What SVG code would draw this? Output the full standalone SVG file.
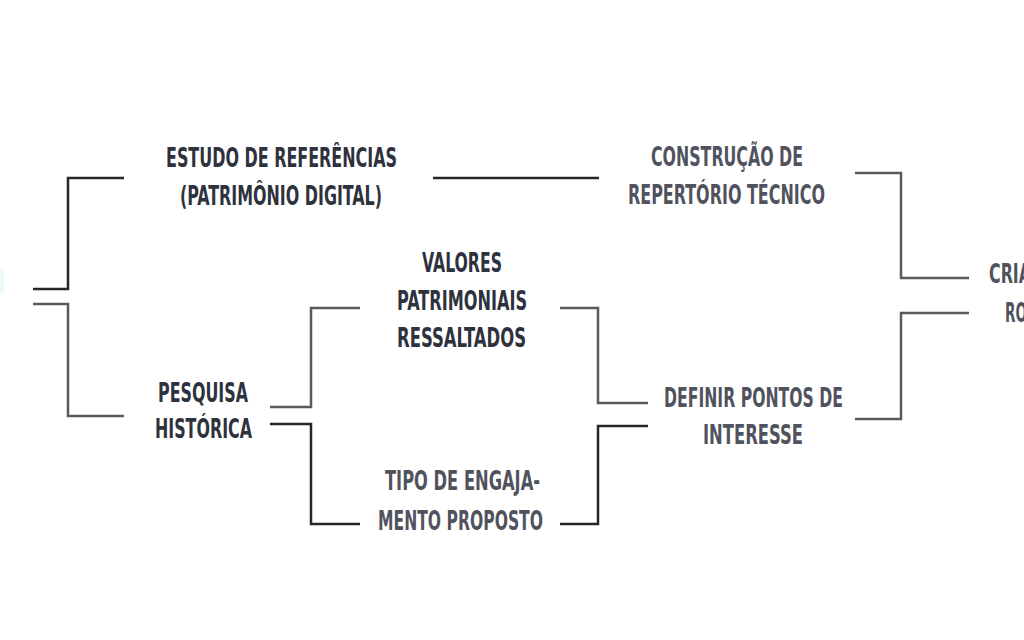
<svg xmlns="http://www.w3.org/2000/svg" width="1024" height="640" viewBox="0 0 1024 640">
<style>
  .t { font-family: "DejaVu Sans Condensed", "DejaVu Sans", sans-serif; font-weight: bold; font-size: 27px; font-stretch: condensed; }
  .dk { fill: #2e323d; }
  .md { fill: #50535d; }
  .ln { fill: none; stroke: #262626; stroke-width: 2.5; }
  .lg { fill: none; stroke: #5a5a5a; stroke-width: 2.5; }
</style>
<rect width="1024" height="640" fill="#ffffff"/>
<rect x="0" y="270" width="4" height="24" fill="#eef9fb"/>

<g id="connectors">
  <polyline class="ln" points="33,289 68,289 68,178 124,178"/>
  <polyline class="lg" points="33,304 68,304 68,416 124,416"/>
  <line class="ln" x1="433" y1="178" x2="599" y2="178"/>
  <polyline class="lg" points="270,407 311,407 311,308 360,308"/>
  <polyline class="ln" points="270,424 311,424 311,524 360,524"/>
  <polyline class="lg" points="560,308 598,308 598,403 648,403"/>
  <polyline class="ln" points="560,524 598,524 598,426 648,426"/>
  <polyline class="lg" points="855,173 901,173 901,278 969,278"/>
  <polyline class="lg" points="855,419 901,419 901,313 969,313"/>
</g>

<g id="node-estudo">
  <text class="t dk" x="166" y="167" textLength="231" lengthAdjust="spacingAndGlyphs">ESTUDO DE REFERÊNCIAS</text>
  <text class="t dk" x="180" y="205" textLength="202" lengthAdjust="spacingAndGlyphs">(PATRIMÔNIO DIGITAL)</text>
</g>

<g id="node-construcao">
  <text class="t md" x="651" y="166" textLength="152" lengthAdjust="spacingAndGlyphs">CONSTRUÇÃO DE</text>
  <text class="t md" x="628" y="204" textLength="197" lengthAdjust="spacingAndGlyphs">REPERTÓRIO TÉCNICO</text>
</g>

<g id="node-valores">
  <text class="t dk" x="422" y="272" textLength="80" lengthAdjust="spacingAndGlyphs">VALORES</text>
  <text class="t dk" x="397" y="310" textLength="130" lengthAdjust="spacingAndGlyphs">PATRIMONIAIS</text>
  <text class="t dk" x="397" y="347" textLength="129" lengthAdjust="spacingAndGlyphs">RESSALTADOS</text>
</g>

<g id="node-pesquisa">
  <text class="t dk" x="158" y="402" textLength="90" lengthAdjust="spacingAndGlyphs">PESQUISA</text>
  <text class="t dk" x="155" y="438" textLength="97" lengthAdjust="spacingAndGlyphs">HISTÓRICA</text>
</g>

<g id="node-tipo">
  <text class="t md" x="385" y="490" textLength="155" lengthAdjust="spacingAndGlyphs">TIPO DE ENGAJA-</text>
  <text class="t md" x="378" y="530" textLength="165" lengthAdjust="spacingAndGlyphs">MENTO PROPOSTO</text>
</g>

<g id="node-definir">
  <text class="t md" x="664" y="407" textLength="179" lengthAdjust="spacingAndGlyphs">DEFINIR PONTOS DE</text>
  <text class="t md" x="703" y="444" textLength="100" lengthAdjust="spacingAndGlyphs">INTERESSE</text>
</g>

<g id="node-criacao">
  <text class="t md" x="989" y="283" textLength="42" lengthAdjust="spacingAndGlyphs">CRIA</text>
  <text class="t md" x="1005" y="322" textLength="22" lengthAdjust="spacingAndGlyphs">RO</text>
</g>
</svg>
